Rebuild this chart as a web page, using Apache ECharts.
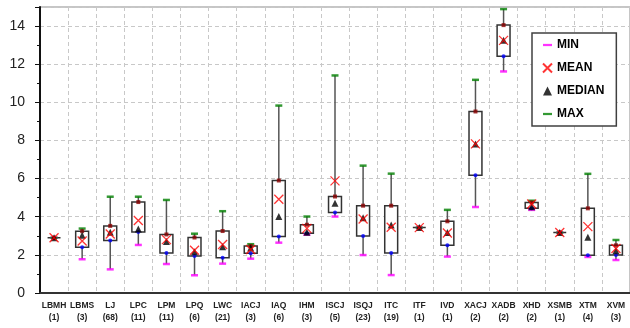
<!DOCTYPE html>
<html><head><meta charset="utf-8">
<script src="https://cdn.jsdelivr.net/npm/echarts@6/dist/echarts.min.js"></script>
<style>html,body{margin:0;padding:0;background:#fff}#c{width:630px;height:328px}</style>
</head><body><div id="c"></div>
<script>
const categories = ['LBMH','LBMS','LJ','LPC','LPM','LPQ','LWC','IACJ','IAQ','IHM','ISCJ','ISQJ','ITC','ITF','IVD','XACJ','XADB','XHD','XSMB','XTM','XVM'];
const counts     = [1, 3, 68, 11, 11, 6, 21, 3, 6, 3, 5, 23, 19, 1, 1, 2, 2, 2, 1, 4, 3];
const minVals    = [2.90, 1.77, 1.24, 2.52, 1.52, 0.93, 1.54, 1.80, 2.64, 3.06, 4.01, 1.99, 0.94, 3.43, 1.91, 4.51, 11.62, 4.36, 3.17, 1.89, 1.73];
const q1Vals     = [2.90, 2.40, 2.75, 3.20, 2.10, 1.94, 1.85, 2.08, 2.96, 3.13, 4.22, 2.99, 2.10, 3.43, 2.50, 6.18, 12.42, 4.45, 3.17, 1.98, 1.99];
const medianVals = [2.90, 3.03, 3.18, 3.36, 2.70, 2.17, 2.43, 2.36, 4.01, 3.19, 4.71, 3.95, 3.57, 3.43, 3.17, 7.82, 13.25, 4.53, 3.17, 2.92, 2.22];
const meanVals   = [2.90, 2.73, 3.09, 3.80, 2.80, 2.24, 2.54, 2.28, 4.92, 3.39, 5.88, 3.88, 3.45, 3.43, 3.15, 7.82, 13.25, 4.67, 3.17, 3.48, 2.33];
const q3Vals     = [2.90, 3.24, 3.52, 4.77, 3.07, 2.91, 3.25, 2.46, 5.90, 3.58, 5.06, 4.58, 4.58, 3.43, 3.76, 9.52, 14.05, 4.75, 3.17, 4.44, 2.50];
const maxVals    = [2.90, 3.38, 5.05, 5.05, 4.88, 3.11, 4.29, 2.56, 9.83, 4.01, 11.41, 6.68, 6.26, 3.43, 4.36, 11.18, 14.89, 4.84, 3.17, 6.25, 2.78];

const FONT = 'Liberation Sans, Arial, sans-serif';
const chart = echarts.init(document.getElementById('c'), null, {renderer: 'canvas'});
const boxData = categories.map((_, i) => [i, minVals[i], q1Vals[i], q3Vals[i], maxVals[i]]);
const pts = arr => arr.map((v, i) => [i, v]);
const DASH = 'path://M0,0H8V2H0Z';
const XPATH = 'path://M0,0L10,10M10,0L0,10';

const option = {
  animation: false,
  grid: {left: 40, top: 7, right: -1, bottom: 35, show: true, borderColor: '#8c8c8c', borderWidth: 1},
  xAxis: {
    type: 'category', data: categories, boundaryGap: true,
    axisLine: {lineStyle: {color: '#333', width: 2}},
    axisTick: {length: 5, lineStyle: {color: '#333'}},
    splitLine: {show: true, lineStyle: {color: '#c8c8c8', type: [4, 3]}},
    axisLabel: {interval: 0, formatter: (v, i) => v + '\n(' + counts[i] + ')', fontSize: 8.5, fontWeight: 'bold',
      lineHeight: 12.7, margin: 6, color: '#222', fontFamily: FONT}
  },
  yAxis: {
    type: 'value', min: 0, max: 15, interval: 2,
    axisLine: {show: true, lineStyle: {color: '#111', width: 2}},
    axisTick: {show: true, length: 5, lineStyle: {color: '#111'}},
    minorTick: {show: true, splitNumber: 2, length: 3, lineStyle: {color: '#111'}},
    splitLine: {lineStyle: {color: '#c8c8c8', type: [4, 3]}},
    axisLabel: {formatter: v => v > 14 ? '' : String(v), fontSize: 14, color: '#222', margin: 15, fontFamily: FONT}
  },
  legend: {
    orient: 'vertical', left: 532, top: 33, padding: [5, 12, 5, 10],
    itemWidth: 9, itemHeight: 9, itemGap: 9,
    backgroundColor: '#fff', borderColor: '#404040', borderWidth: 1.5,
    textStyle: {fontSize: 12, fontWeight: 'bold', color: '#000', lineHeight: 14, fontFamily: FONT},
    data: [{name: 'MIN', icon: DASH}, {name: 'MEAN', icon: XPATH}, {name: 'MEDIAN', icon: 'triangle'}, {name: 'MAX', icon: DASH}]
  },
  series: [
    {
      type: 'custom', name: 'box', data: boxData, encode: {x: 0, y: [1, 2, 3, 4]},
      renderItem: function (params, api) {
        const x = api.value(0);
        const pMin = api.coord([x, api.value(1)]);
        const pQ1 = api.coord([x, api.value(2)]);
        const pQ3 = api.coord([x, api.value(3)]);
        const pMax = api.coord([x, api.value(4)]);
        const bw = api.size([1, 0])[0] * 0.46;
        return {type: 'group', children: [
          {type: 'line', shape: {x1: pMin[0], y1: pMin[1], x2: pMax[0], y2: pMax[1]}, style: {stroke: '#555', lineWidth: 1.5}},
          {type: 'rect', shape: {x: pQ3[0] - bw / 2, y: pQ3[1], width: bw, height: pQ1[1] - pQ3[1]},
            style: {fill: '#fff', stroke: '#333', lineWidth: 1.5}}
        ]};
      }
    },
    {type: 'scatter', name: 'MIN', data: pts(minVals), symbol: 'rect', symbolSize: [7, 2.5], itemStyle: {color: '#ff00ff'}},
    {type: 'scatter', name: 'MAX', data: pts(maxVals), symbol: 'rect', symbolSize: [7, 2.5], itemStyle: {color: '#008000'}},
    {type: 'scatter', name: 'Q1', data: pts(q1Vals), symbol: 'circle', symbolSize: 4, itemStyle: {color: '#0000ff'}},
    {type: 'scatter', name: 'Q3', data: pts(q3Vals), symbol: 'rect', symbolSize: 4, itemStyle: {color: '#8b0000'}},
    {type: 'scatter', name: 'MEDIAN', data: pts(medianVals), symbol: 'triangle', symbolSize: [7, 7], itemStyle: {color: '#000'}},
    {type: 'scatter', name: 'MEAN', data: pts(meanVals), symbol: XPATH, symbolSize: 9,
      itemStyle: {color: 'rgba(0,0,0,0)', borderColor: '#ff0000', borderWidth: 1.3}}
  ]
};
chart.setOption(option);
</script>
</body></html>
